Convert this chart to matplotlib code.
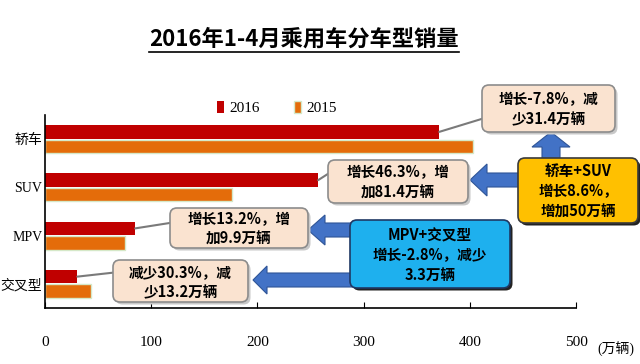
import matplotlib.pyplot as plt
from matplotlib.patches import FancyBboxPatch, FancyArrow, Patch
from matplotlib.patches import ConnectionPatch
from matplotlib.lines import Line2D

CATEGORIES = ["轿车", "SUV", "MPV", "交叉型"]
SALES_2016 = [371.2, 257.2, 84.9, 30.4]
SALES_2015 = [402.6, 175.8, 75.0, 43.6]
XTICKS = [0, 100, 200, 300, 400, 500]

CALLOUTS = [
    "增长-7.8%，减\n少31.4万辆",
    "增长46.3%，增\n加81.4万辆",
    "增长13.2%，增\n加9.9万辆",
    "减少30.3%，减\n少13.2万辆",
]
SUMMARY_CAR_SUV = "轿车+SUV\n增长8.6%，\n增加50万辆"
SUMMARY_MPV_CROSS = "MPV+交叉型\n增长-2.8%，减少\n3.3万辆"

RED = "#C00000"
ORANGE = "#E46C0A"
PEACH = "#FAE3D0"
ARROW_BLUE = "#4272C6"
CJK = ["Noto Sans CJK SC", "DejaVu Sans"]
SERIF = ["Liberation Serif", "Noto Sans CJK SC"]

fig = plt.figure(figsize=(6.4, 3.64), dpi=100)
ax = fig.add_axes([45 / 640, 1 - 308 / 364, 531 / 640, 193 / 364])

y = list(range(len(CATEGORIES)))
h = 0.28
ax.barh([i - 0.15 for i in y], SALES_2016, height=h, color=RED, zorder=2)
ax.barh([i + 0.15 for i in y], SALES_2015, height=h, color=ORANGE,
        edgecolor="#D5E8C8", linewidth=1.0, zorder=2)

ax.set_xlim(0, 500)
ax.set_ylim(3.5, -0.5)
ax.set_xticks(XTICKS)
ax.set_xticklabels([str(v) for v in XTICKS], family=SERIF, fontsize=11)
ax.set_yticks(y)
ax.set_yticklabels(CATEGORIES, family=SERIF, fontsize=10)
ax.tick_params(axis="x", direction="in", length=4, pad=20, colors="black")
ax.tick_params(axis="y", length=0, pad=2)
for s in ("top", "right"):
    ax.spines[s].set_visible(False)
for s in ("left", "bottom"):
    ax.spines[s].set_linewidth(1.2)

ax.legend(handles=[Patch(facecolor=RED, label="2016"),
                   Patch(facecolor=ORANGE, edgecolor="#D5E8C8", label="2015")],
          loc="center left", bbox_to_anchor=(203 / 640, 1 - 108 / 364),
          bbox_transform=fig.transFigure, ncol=2, frameon=False,
          handlelength=0.45, handleheight=0.9, handletextpad=0.4,
          columnspacing=2.2, prop={"family": SERIF, "size": 11})

# overlay in pixel coordinates for callouts and arrows
ov = fig.add_axes([0, 0, 1, 1], zorder=5)
ov.set_xlim(0, 640)
ov.set_ylim(364, 0)
ov.axis("off")


def box(x0, y0, w, hh, text, fc, ec, shadow, size=10.5, zo=6):
    ov.add_patch(FancyBboxPatch((x0 + 2.5, y0 + 2.5), w, hh,
                                boxstyle="round,pad=0,rounding_size=7",
                                fc=shadow, ec="none", zorder=zo))
    ov.add_patch(FancyBboxPatch((x0, y0), w, hh,
                                boxstyle="round,pad=0,rounding_size=7",
                                fc=fc, ec=ec, lw=1.2, zorder=zo + 0.1))
    ov.text(x0 + w / 2, y0 + hh / 2 + 1, text, ha="center", va="center",
            family=CJK, fontweight="bold", fontsize=size,
            linespacing=1.3, zorder=zo + 0.2)


def pointer(xa, ya, val, i):
    con = ConnectionPatch((xa, ya), (val, i - 0.15), coordsA=ov.transData,
                          coordsB=ax.transData, color="#7A7A7A", lw=1.5,
                          zorder=5.5)
    ov.add_artist(con)


def arrow(x, yy, dx, dy, width, hw, hl):
    ov.add_patch(FancyArrow(x, yy, dx, dy, width=width, head_width=hw,
                            head_length=hl, length_includes_head=True,
                            fc=ARROW_BLUE, ec="#2F5597", lw=0.8, zorder=5.8))


# callouts on the bars
callout_boxes = [(482, 85, 133, 47), (328, 160, 140, 43),
                 (170, 208, 138, 40), (113, 260, 135, 42)]
anchors = [(488, 117), (334, 170), (176, 222), (119, 272)]
for i, ((bx, by, bw, bh), (axp, ayp)) in enumerate(zip(callout_boxes, anchors)):
    pointer(axp, ayp, SALES_2016[i], i)
    box(bx, by, bw, bh, CALLOUTS[i], PEACH, "#8C8C8C", "#C8C8C8")

# summary arrows
arrow(551, 160, 0, -28, 18, 38, 15)
arrow(520, 180, -50, 0, 14, 32, 17)
arrow(352, 230, -44, 0, 14, 30, 17)
arrow(352, 280, -99, 0, 14, 28, 14)

box(518, 158, 120, 65, SUMMARY_CAR_SUV, "#FFC000", "#3A3A3A", "#222222", zo=7)
box(350, 220, 160, 68, SUMMARY_MPV_CROSS, "#1EB0EE", "#1F3864", "#222222", zo=7)

# title with underline
t = fig.text(304 / 640, 1 - 39 / 364, "2016年1-4月乘用车分车型销量",
             ha="center", va="center", family=CJK, fontweight="bold", fontsize=16)
fig.canvas.draw()
bb = t.get_window_extent().transformed(fig.transFigure.inverted())
fig.add_artist(Line2D([bb.x0, bb.x1], [bb.y0 - 0.004, bb.y0 - 0.004],
                      transform=fig.transFigure, color="black", lw=1.2))

fig.text(616 / 640, 1 - 349 / 364, "(万辆)", ha="center", va="center",
         family=SERIF, fontsize=10)

fig.savefig("out.png", dpi=100, facecolor="white")
